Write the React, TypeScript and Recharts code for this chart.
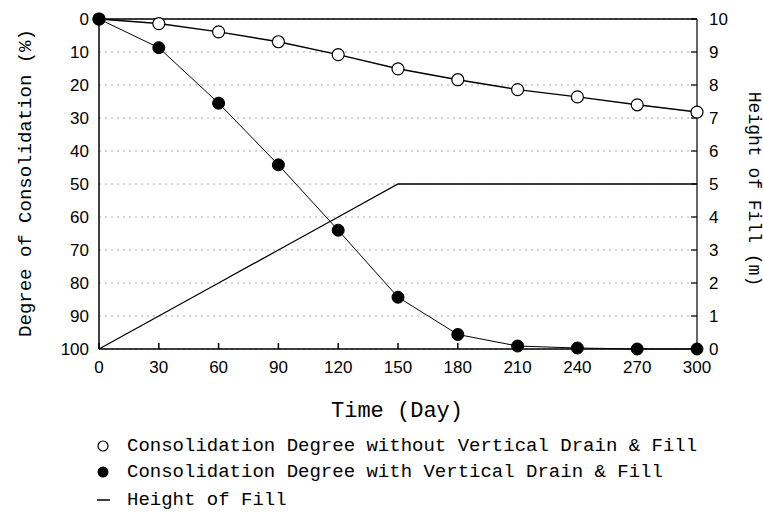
import React from "react";
import {
  ComposedChart,
  Line,
  XAxis,
  YAxis,
  CartesianGrid,
} from "recharts";

// days
const days = [0, 30, 60, 90, 120, 150, 180, 210, 240, 270, 300];
// degree of consolidation (%) without vertical drain
const withoutDrain = [0, 1.4, 3.9, 6.9, 10.8, 15.1, 18.4, 21.4, 23.6, 26, 28.2];
// degree of consolidation (%) with vertical drain
const withDrain = [0, 8.7, 25.5, 44.2, 64, 84.3, 95.6, 99.1, 99.7, 100, 100];
// height of fill (m)
const fillHeight = [0, 1, 2, 3, 4, 5, 5, 5, 5, 5, 5];

const xTicks = [0, 30, 60, 90, 120, 150, 180, 210, 240, 270, 300];
const leftTicks = [0, 10, 20, 30, 40, 50, 60, 70, 80, 90, 100];
const rightTicks = [0, 1, 2, 3, 4, 5, 6, 7, 8, 9, 10];

const legendItems = [
  "Consolidation Degree without Vertical Drain & Fill",
  "Consolidation Degree with Vertical Drain & Fill",
  "Height of Fill",
];
const legendRows = [446, 472, 500];

const data = days.map((d, i) => ({
  day: d,
  without: withoutDrain[i],
  with: withDrain[i],
  fill: fillHeight[i],
}));

const TICK_FONT = { fontFamily: "Liberation Sans", fontSize: 17, fill: "#000" };
const TITLE_FONT = "Liberation Mono";

export default function App() {
  return (
    <div style={{ position: "absolute", left: 0, top: 0, width: 763, height: 520, background: "#fff" }}>
      <ComposedChart
        width={763}
        height={520}
        data={data}
        margin={{ top: 18, right: 16, left: 39, bottom: 131 }}
      >
        <CartesianGrid
          horizontal
          vertical={false}
          yAxisId="left"
          xAxisId="bottom"
          stroke="#aaa"
          strokeDasharray="2 4"
        />
        <XAxis
          xAxisId="top"
          orientation="top"
          dataKey="day"
          type="number"
          domain={[0, 300]}
          ticks={xTicks}
          height={1}
          tick={false}
          tickSize={-6}
          stroke="#000"
          strokeWidth={1.5}
        />
        <XAxis
          xAxisId="bottom"
          dataKey="day"
          type="number"
          domain={[0, 300]}
          ticks={xTicks}
          height={40}
          tickSize={-6}
          tickMargin={18}
          tick={TICK_FONT}
          stroke="#000"
          strokeWidth={1.5}
        />
        <YAxis
          yAxisId="left"
          type="number"
          domain={[0, 100]}
          reversed
          ticks={leftTicks}
          width={60}
          tickSize={0}
          tickMargin={10}
          tick={TICK_FONT}
          stroke="#000"
          strokeWidth={1.5}
        />
        <YAxis
          yAxisId="right"
          orientation="right"
          type="number"
          domain={[0, 10]}
          ticks={rightTicks}
          width={50}
          tickSize={-6}
          tickMargin={18}
          tick={{ ...TICK_FONT, textAnchor: "start" }}
          stroke="#000"
          strokeWidth={1.2}
        />
        <Line
          xAxisId="bottom"
          yAxisId="right"
          dataKey="fill"
          stroke="#000"
          strokeWidth={1.3}
          dot={false}
          isAnimationActive={false}
        />
        <Line
          xAxisId="bottom"
          yAxisId="left"
          dataKey="without"
          stroke="#000"
          strokeWidth={1.5}
          dot={{ r: 6, fill: "#fff", stroke: "#000", strokeWidth: 1.2 }}
          isAnimationActive={false}
        />
        <Line
          xAxisId="bottom"
          yAxisId="left"
          dataKey="with"
          stroke="#000"
          strokeWidth={1}
          dot={{ r: 6, fill: "#000", stroke: "#000", strokeWidth: 1 }}
          isAnimationActive={false}
        />
        <text
          x={26}
          y={183}
          transform="rotate(-90 26 183)"
          textAnchor="middle"
          dominantBaseline="central"
          fontFamily={TITLE_FONT}
          fontSize={19}
          fill="#000"
        >
          Degree of Consolidation (%)
        </text>
        <text
          x={754}
          y={189}
          transform="rotate(90 754 189)"
          textAnchor="middle"
          dominantBaseline="central"
          fontFamily={TITLE_FONT}
          fontSize={18}
          fill="#000"
        >
          Height of Fill (m)
        </text>
        <text
          x={397}
          y={411}
          textAnchor="middle"
          dominantBaseline="central"
          fontFamily={TITLE_FONT}
          fontSize={22}
          fill="#000"
        >
          Time (Day)
        </text>
        {legendItems.map((label, i) => (
          <g key={label}>
            {i === 0 && <circle cx={103} cy={legendRows[i]} r={5} fill="#fff" stroke="#000" strokeWidth={1.2} />}
            {i === 1 && <circle cx={103} cy={legendRows[i]} r={5.5} fill="#000" />}
            {i === 2 && <line x1={97} x2={110} y1={legendRows[i]} y2={legendRows[i]} stroke="#000" strokeWidth={1.5} />}
            <text
              x={127}
              y={legendRows[i]}
              dominantBaseline="central"
              fontFamily={TITLE_FONT}
              fontSize={19}
              fill="#000"
            >
              {label}
            </text>
          </g>
        ))}
      </ComposedChart>
    </div>
  );
}
